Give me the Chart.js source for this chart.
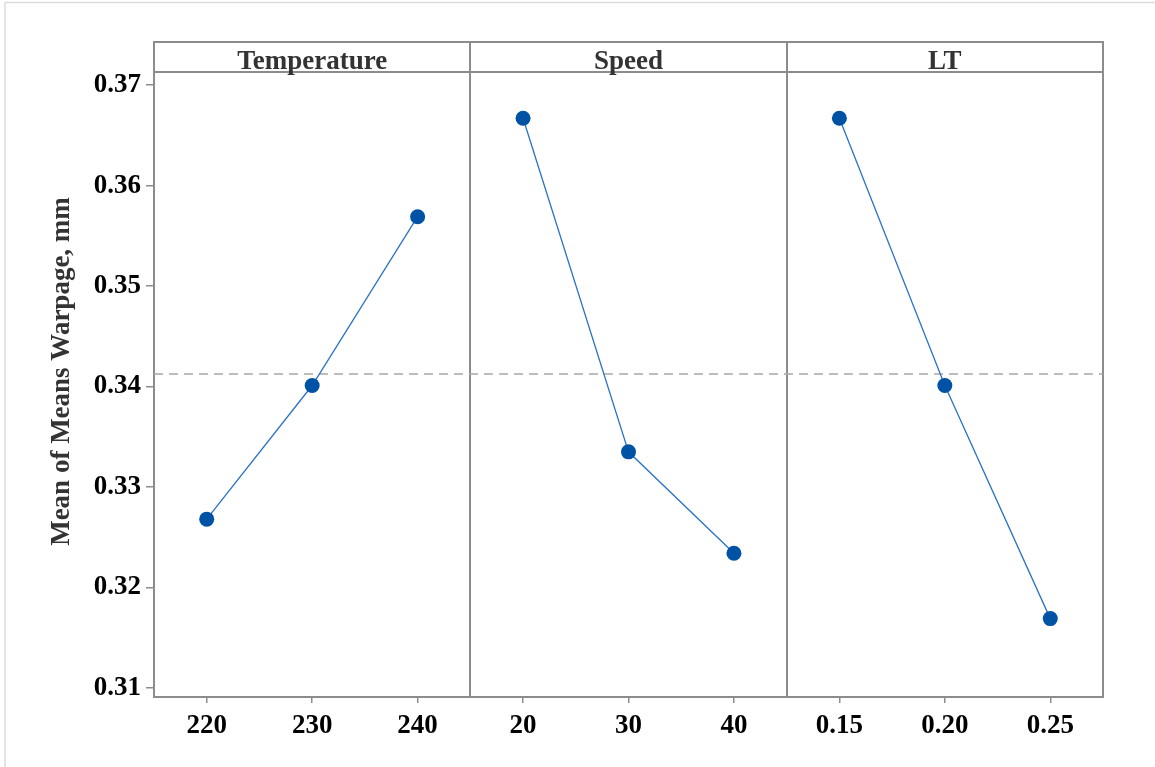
<!DOCTYPE html>
<html>
<head>
<meta charset="utf-8">
<title>Main Effects Plot for Means</title>
<script src="https://cdn.jsdelivr.net/npm/chart.js@4.4.0/dist/chart.umd.min.js"></script>
<style>
  html, body { margin: 0; padding: 0; background: #fff; }
  #wrap { width: 1155px; height: 767px; }
</style>
</head>
<body>
<div id="wrap"><canvas id="mainEffectsChart" width="1155" height="767"></canvas></div>
<script>
// factors and their levels
const factors = ['Temperature', 'Speed', 'LT'];
const tempLevels = ['220', '230', '240'];
const speedLevels = ['20', '30', '40'];
const ltLevels = ['0.15', '0.20', '0.25'];

// mean of means (warpage, mm) for each level
const tempMeans = [0.3268, 0.3401, 0.3569];
const speedMeans = [0.3667, 0.3335, 0.3234];
const ltMeans = [0.3667, 0.3401, 0.3169];

const yTicks = [0.31, 0.32, 0.33, 0.34, 0.35, 0.36, 0.37];

const levelSets = [tempLevels, speedLevels, ltLevels];
const meanSets = [tempMeans, speedMeans, ltMeans];

// grand mean for the dashed reference line
const allMeans = [].concat(tempMeans, speedMeans, ltMeans);
const grandMean = allMeans.reduce((s, v) => s + v, 0) / allMeans.length;

// each panel is 3 units wide, levels sit in the middle of their unit
const tickPositions = [];
const tickLabels = [];
levelSets.forEach((levels, p) => {
  levels.forEach((lab, i) => {
    tickPositions.push(p * 3 + i + 0.5);
    tickLabels.push(lab);
  });
});

const serif = "'Liberation Serif', 'Times New Roman', serif";
const frameColor = '#8c8c8c';
const fontSize = 27;

const panelDatasets = meanSets.map((means, p) => ({
  label: factors[p],
  data: means.map((v, i) => ({ x: p * 3 + i + 0.5, y: v })),
  borderColor: '#2a72c8',
  borderWidth: 1.3,
  pointRadius: 7.5,
  pointBackgroundColor: '#0052a5',
  pointBorderColor: '#0052a5',
  pointBorderWidth: 0,
  tension: 0
}));

const meanLine = {
  label: 'Mean',
  data: [{ x: 0, y: grandMean }, { x: 9, y: grandMean }],
  borderColor: '#a8a8a8',
  borderWidth: 1.5,
  borderDash: [9, 6],
  pointRadius: 0
};

// header strip, frame, panel dividers, y title
const panelFrame = {
  id: 'panelFrame',
  beforeDraw(chart) {
    const ctx = chart.ctx;
    ctx.save();
    ctx.strokeStyle = '#dcdcdc';
    ctx.lineWidth = 1.5;
    ctx.beginPath();
    ctx.moveTo(5, chart.height);
    ctx.lineTo(5, 2.5);
    ctx.lineTo(chart.width, 2.5);
    ctx.stroke();
    ctx.restore();
  },
  beforeDatasetsDraw(chart) {
    const { ctx, chartArea: a, scales: { x } } = chart;
    const headTop = a.top - 30;
    ctx.save();
    ctx.strokeStyle = frameColor;
    ctx.lineWidth = 2;
    ctx.strokeRect(a.left, headTop, a.right - a.left, a.bottom - headTop);
    ctx.beginPath();
    ctx.moveTo(a.left, a.top);
    ctx.lineTo(a.right, a.top);
    for (let p = 1; p < factors.length; p++) {
      const xp = Math.round(x.getPixelForValue(p * 3));
      ctx.moveTo(xp, headTop);
      ctx.lineTo(xp, a.bottom);
    }
    ctx.stroke();

    ctx.fillStyle = '#333333';
    ctx.font = 'bold ' + fontSize + 'px ' + serif;
    ctx.textAlign = 'center';
    ctx.textBaseline = 'middle';
    factors.forEach((f, p) => {
      const cx = x.getPixelForValue(p * 3 + 1.5);
      ctx.fillText(f, cx, headTop + 20);
    });

    ctx.translate(62, (headTop + a.bottom) / 2 + 2);
    ctx.rotate(-Math.PI / 2);
    ctx.fillText('Mean of Means Warpage, mm', 0, 0);
    ctx.restore();
  }
};

new Chart(document.getElementById('mainEffectsChart'), {
  type: 'line',
  data: { datasets: [...panelDatasets, meanLine] },
  options: {
    responsive: false,
    animation: false,
    devicePixelRatio: 1,
    layout: { padding: { top: 72, right: 52, left: 0, bottom: 0 } },
    plugins: {
      legend: { display: false },
      tooltip: { enabled: false }
    },
    scales: {
      x: {
        type: 'linear',
        min: 0,
        max: 9,
        afterBuildTicks: (scale) => { scale.ticks = tickPositions.map(v => ({ value: v })); },
        afterFit: (scale) => { scale.height = 70; },
        border: { display: false },
        grid: { drawOnChartArea: false, color: frameColor, lineWidth: 1.5, tickLength: 6 },
        ticks: {
          color: '#000',
          padding: 7,
          maxRotation: 0,
          autoSkip: false,
          font: { family: serif, size: fontSize, weight: 'bold' },
          callback: (value) => {
            const k = tickPositions.indexOf(value);
            return k >= 0 ? tickLabels[k] : '';
          }
        }
      },
      y: {
        min: 0.3091,
        max: 0.3713,
        afterBuildTicks: (scale) => { scale.ticks = yTicks.map(v => ({ value: v })); },
        afterFit: (scale) => { scale.width = 154; },
        border: { display: false },
        grid: { drawOnChartArea: false, color: frameColor, lineWidth: 1.5, tickLength: 8 },
        ticks: {
          color: '#000',
          padding: 5,
          font: { family: serif, size: fontSize, weight: 'bold' },
          callback: (value) => value.toFixed(2)
        }
      }
    }
  },
  plugins: [panelFrame]
});
</script>
</body>
</html>
